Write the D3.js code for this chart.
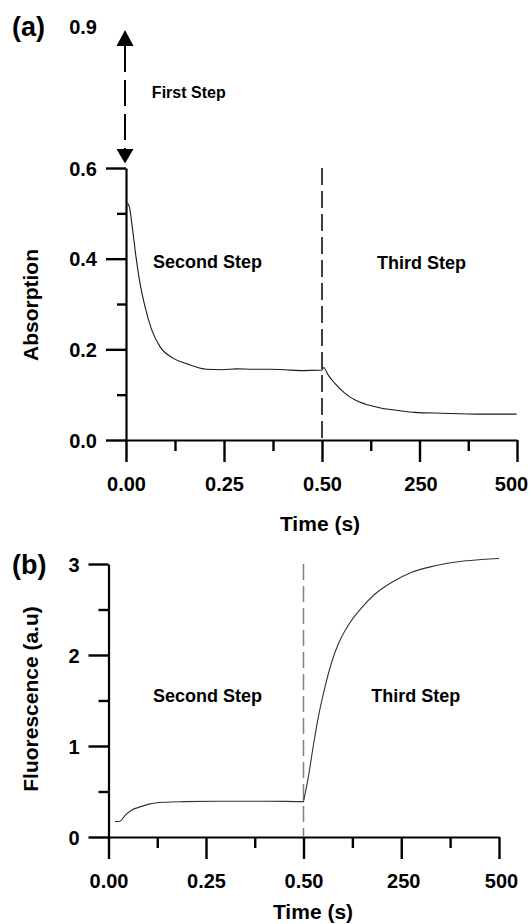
<!DOCTYPE html>
<html><head><meta charset="utf-8">
<script src="https://cdn.jsdelivr.net/npm/d3@7"></script>
<style>
html,body{margin:0;padding:0;background:#fff;}
svg{display:block;background:#fff;}
text{font-family:"Liberation Sans",Arial,Helvetica,sans-serif;font-weight:bold;fill:#000;}
</style></head><body>
<svg id="chart" width="532" height="924"></svg>
<script>
// ---------- DATA ----------
// Panel (a): absorption. Second step time in s (0–0.5), third step time in s (0–500)
const absSecondTime  = [0.0033, 0.0084, 0.017, 0.0255, 0.0357, 0.0485, 0.0656, 0.0867, 0.121, 0.155, 0.206, 0.245, 0.282, 0.325, 0.367, 0.405, 0.444, 0.495];
const absSecondValue = [0.523, 0.515, 0.463, 0.404, 0.346, 0.294, 0.243, 0.206, 0.180, 0.168, 0.156, 0.155, 0.157, 0.156, 0.156, 0.155, 0.153, 0.154];
const absThirdTime   = [0, 4, 16, 33, 59, 85, 119, 153, 196, 238, 307, 410, 499];
const absThirdValue  = [0.154, 0.160, 0.143, 0.125, 0.103, 0.088, 0.077, 0.070, 0.065, 0.061, 0.059, 0.057, 0.057];

// Panel (b): fluorescence
const fluSecondTime  = [0.0167, 0.0295, 0.042, 0.059, 0.081, 0.106, 0.141, 0.192, 0.277, 0.406, 0.4995];
const fluSecondValue = [0.17, 0.173, 0.236, 0.294, 0.331, 0.364, 0.382, 0.389, 0.393, 0.393, 0.389];
const fluThirdTime   = [0, 2, 12, 25, 38, 55, 72, 89, 115, 149, 183, 226, 277, 336, 405, 456, 500];
const fluThirdValue  = [0.39, 0.43, 0.65, 1.00, 1.32, 1.65, 1.92, 2.12, 2.33, 2.52, 2.67, 2.80, 2.91, 2.98, 3.03, 3.05, 3.06];

// Tick definitions
const fastMajorTicks = [0, 0.25, 0.5];      // s, second step
const slowMajorTicks = [250, 500];          // s, third step
const fastMinorTicks = [0.125, 0.375];
const slowMinorTicks = [125, 375];
const xTickLabels = ["0.00", "0.25", "0.50", "250", "500"];
const absYMajor = [0, 0.2, 0.4, 0.6];
const absYMinor = [0.1, 0.3, 0.5];
const fluYMajor = [0, 1, 2, 3];
const fluYMinor = [0.5, 1.5, 2.5];

// composite time axis: second step 0..0.5 s, third step 0..500 s
const secondToC = t => t;
const thirdToC = s => 0.5 + s / 1000;

const svg = d3.select("#chart");

function drawPanel(cfg) {
  const g = svg.append("g");
  const x = d3.scaleLinear().domain([0, 0.5, 1]).range(cfg.xRange);
  const y = d3.scaleLinear().domain(cfg.yDomain).range(cfg.yRange);
  const x0 = cfg.xRange[0], y0 = y(0);

  const majorC = fastMajorTicks.map(secondToC).concat(slowMajorTicks.map(thirdToC));
  const minorC = fastMinorTicks.map(secondToC).concat(slowMinorTicks.map(thirdToC));

  // x axis minor
  const xMinorAxis = d3.axisBottom(x).tickValues(minorC).tickSize(11).tickSizeOuter(0).tickFormat("");
  const gxm = g.append("g").attr("transform", `translate(0,${y0})`).call(xMinorAxis);
  gxm.select(".domain").remove();
  // x axis major
  const xAxis = d3.axisBottom(x).tickValues(majorC).tickSize(22).tickSizeOuter(0)
      .tickFormat((d, i) => xTickLabels[i]);
  const gx = g.append("g").attr("transform", `translate(0,${y0})`).call(xAxis);
  gx.selectAll(".tick text").attr("y", 37).attr("dy", "0.71em")
    .attr("x", (d, i) => cfg.xLabelDx[i])
    .attr("font-size", 20).attr("fill", "#000")
    .style("font-family", '"Liberation Sans",Arial,sans-serif').style("font-weight", "bold");

  // y axis minor
  const yMinorAxis = d3.axisLeft(y).tickValues(cfg.yMinor).tickSize(cfg.minorY).tickSizeOuter(0).tickFormat("");
  const gym = g.append("g").attr("transform", `translate(${x0},0)`).call(yMinorAxis);
  gym.select(".domain").remove();
  // y axis major
  const yAxis = d3.axisLeft(y).tickValues(cfg.yMajor).tickSize(cfg.majorY).tickSizeOuter(0).tickFormat(cfg.yFormat);
  const gy = g.append("g").attr("transform", `translate(${x0},0)`).call(yAxis);
  gy.selectAll(".tick text").attr("x", -(cfg.majorY + 9)).attr("dy", "0.35em")
    .attr("font-size", 20).attr("fill", "#000")
    .style("font-family", '"Liberation Sans",Arial,sans-serif').style("font-weight", "bold");

  g.selectAll(".domain").attr("stroke", "#000").attr("stroke-width", 2.2);
  g.selectAll(".tick line").attr("stroke", "#000").attr("stroke-width", 2.4);

  // dashed separator at the step boundary
  g.append("line")
    .attr("x1", x(0.5)).attr("x2", x(0.5))
    .attr("y1", y(cfg.yDomain[1])).attr("y2", y0)
    .attr("stroke", cfg.sepColor).attr("stroke-width", 1.5)
    .attr("stroke-dasharray", cfg.sepDash);

  // curves
  const line = d3.line().x(d => x(d[0])).y(d => y(d[1])).curve(d3.curveMonotoneX);
  const pts = cfg.secondT.map((t, i) => [secondToC(t), cfg.secondV[i]])
    .concat(cfg.thirdT.map((s, i) => [thirdToC(s), cfg.thirdV[i]]));
  g.append("path").datum(pts).attr("d", line)
    .attr("fill", "none").attr("stroke", cfg.curveColor).attr("stroke-width", 1.1);

  // step labels
  cfg.labels.forEach(l => {
    g.append("text").attr("x", x(l.c)).attr("y", y(l.v)).attr("dy", "0.35em")
      .attr("font-size", l.size).text(l.text);
  });

  // axis titles
  g.append("text").attr("transform", `translate(${cfg.yTitlePos[0]},${cfg.yTitlePos[1]}) rotate(-90)`)
    .attr("text-anchor", "middle").attr("font-size", 21).text(cfg.yTitle);
  g.append("text").attr("x", cfg.xTitlePos[0]).attr("y", cfg.xTitlePos[1])
    .attr("text-anchor", "middle").attr("font-size", 21).text("Time (s)");

  // panel letter
  g.append("text").attr("x", 12).attr("y", cfg.letterY).attr("font-size", 27).text(cfg.letter);

  return {g, x, y};
}

// Panel (a)
const pa = drawPanel({
  xRange: [126, 322, 517], yDomain: [0, 0.6], yRange: [440, 168],
  yMajor: absYMajor, yMinor: absYMinor, majorY: 20, minorY: 9, yFormat: d3.format(".1f"),
  xLabelDx: [0, 0, 0, 1, -6],
  sepColor: "#000", sepDash: "17,6", curveColor: "#1a1a1a",
  secondT: absSecondTime, secondV: absSecondValue, thirdT: absThirdTime, thirdV: absThirdValue,
  labels: [
    {text: "Second Step", c: secondToC(0.069), v: 0.393, size: 18},
    {text: "Third Step", c: thirdToC(141), v: 0.391, size: 18}
  ],
  yTitle: "Absorption", yTitlePos: [38, 305], xTitlePos: [320, 531],
  letter: "(a)", letterY: 36
});

// First step annotation (0.6 -> 0.9)
{
  const {g, x, y} = pa;
  const ax = x(0) - 1;
  g.append("text").attr("x", ax - 28).attr("y", y(0.9) - 5).attr("dy", "0.35em")
    .attr("text-anchor", "end").attr("font-size", 20).text("0.9");
  const topTip = y(0.9) - 2, topBase = topTip + 16;
  const botTip = y(0.6) - 4.5, botBase = botTip - 14.5;
  g.append("line").attr("x1", ax).attr("x2", ax).attr("y1", topBase).attr("y2", botBase)
    .attr("stroke", "#000").attr("stroke-width", 2).attr("stroke-dasharray", "26,8");
  g.append("path").attr("d", `M${ax},${topTip}L${ax - 8.5},${topBase}L${ax + 8.5},${topBase}Z`).attr("fill", "#000");
  g.append("path").attr("d", `M${ax},${botTip}L${ax - 8.5},${botBase}L${ax + 8.5},${botBase}Z`).attr("fill", "#000");
  g.append("text").attr("x", x(secondToC(0.066))).attr("y", y(0.766)).attr("dy", "0.35em")
    .attr("font-size", 16).text("First Step");
}

// Panel (b)
drawPanel({
  xRange: [108.5, 303.5, 499], yDomain: [0, 3], yRange: [837, 564],
  yMajor: fluYMajor, yMinor: fluYMinor, majorY: 20, minorY: 10, yFormat: d3.format("d"),
  xLabelDx: [0, 0, 0, 2, 2],
  sepColor: "#808080", sepDash: "16,6", curveColor: "#333",
  secondT: fluSecondTime, secondV: fluSecondValue, thirdT: fluThirdTime, thirdV: fluThirdValue,
  labels: [
    {text: "Second Step", c: secondToC(0.114), v: 1.55, size: 18},
    {text: "Third Step", c: thirdToC(173), v: 1.55, size: 18}
  ],
  yTitle: "Fluorescence (a.u)", yTitlePos: [37.5, 699], xTitlePos: [313, 919],
  letter: "(b)", letterY: 574
});
</script>
</body></html>
